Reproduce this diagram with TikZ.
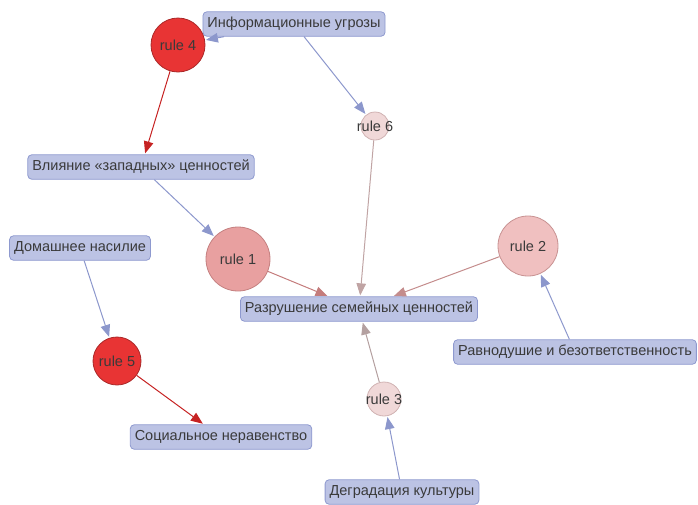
\documentclass[tikz,border=0pt]{standalone}
\usepackage{fontspec}
\setmainfont{Liberation Sans}
\usetikzlibrary{arrows.meta}

\definecolor{boxfill}{HTML}{BCC3E4}
\definecolor{boxdraw}{HTML}{8E99CF}
\definecolor{txt}{HTML}{3A3A3A}
\definecolor{bluearr}{HTML}{8C97CC}
\definecolor{redarr}{HTML}{C62222}
\definecolor{hotfill}{HTML}{E83434}
\definecolor{hotdraw}{HTML}{AA2828}
\definecolor{r1fill}{HTML}{E8A0A0}
\definecolor{r1draw}{HTML}{C48080}
\definecolor{r2fill}{HTML}{F0C0C0}
\definecolor{r2draw}{HTML}{C89292}
\definecolor{palefill}{HTML}{F0D8D8}
\definecolor{paledraw}{HTML}{D0B2B2}
\definecolor{r1arr}{HTML}{C47C7C}
\definecolor{r2arr}{HTML}{C48C8C}
\definecolor{r6arr}{HTML}{C0A4A4}
\definecolor{r3arr}{HTML}{B4A0A0}

\begin{document}
\begin{tikzpicture}[x=1pt, y=-1pt,
    every label/.style={text=txt, inner sep=0pt, font=\fontsize{14.5}{16}\selectfont}]
    \tikzstyle{factor}=[draw=boxdraw, fill=boxfill, rounded corners=4pt, text=txt,
        font=\fontsize{14.5}{16}\selectfont, inner xsep=4.5pt, inner ysep=3pt, minimum height=24.5pt, line width=0.8pt]
    \tikzstyle{rulenode}=[circle, draw, inner sep=0pt, line width=0.8pt, label distance=0pt]
    \tikzstyle{link}=[-{Triangle[length=12pt, width=9.5pt]}, line width=1pt, shorten >=1pt]

    \useasboundingbox (0,0) rectangle (698,504);

    % factors
    \node[factor] (threats) at (294,24) {Информационные угрозы};
    \node[factor] (west) at (141,167) {Влияние «западных» ценностей};
    \node[factor] (violence) at (80,248) {Домашнее насилие};
    \node[factor] (family) at (359,309) {Разрушение семейных ценностей};
    \node[factor] (apathy) at (575,352) {Равнодушие и безответственность};
    \node[factor] (inequality) at (221,437) {Социальное неравенство};
    \node[factor] (culture) at (402,492) {Деградация культуры};

    % rules
    \node[rulenode, fill=hotfill, draw=hotdraw, minimum size=54pt, label=center:rule 4] (r4) at (178,45) {};
    \node[rulenode, fill=palefill, draw=paledraw, minimum size=28pt, label=center:rule 6] (r6) at (375,126) {};
    \node[rulenode, fill=r1fill, draw=r1draw, minimum size=64pt, label=center:rule 1] (r1) at (238,259) {};
    \node[rulenode, fill=r2fill, draw=r2draw, minimum size=60pt, label=center:rule 2] (r2) at (528,246) {};
    \node[rulenode, fill=hotfill, draw=hotdraw, minimum size=48pt, label=center:rule 5] (r5) at (117,361) {};
    \node[rulenode, fill=palefill, draw=paledraw, minimum size=34pt, label=center:rule 3] (r3) at (384,399) {};

    % inputs
    \foreach \a/\b in {threats/r4, threats/r6, west/r1, violence/r5, apathy/r2, culture/r3} {
        \draw[link, bluearr] (\a) -- (\b);
    }

    % outputs
    \draw[link, redarr] (r4) -- (west);
    \draw[link, redarr] (r5) -- (inequality);
    \draw[link, r1arr] (r1) -- (family);
    \draw[link, r6arr] (r6) -- (family);
    \draw[link, r2arr] (r2) -- (family);
    \draw[link, r3arr] (r3) -- (family);
\end{tikzpicture}
\end{document}
